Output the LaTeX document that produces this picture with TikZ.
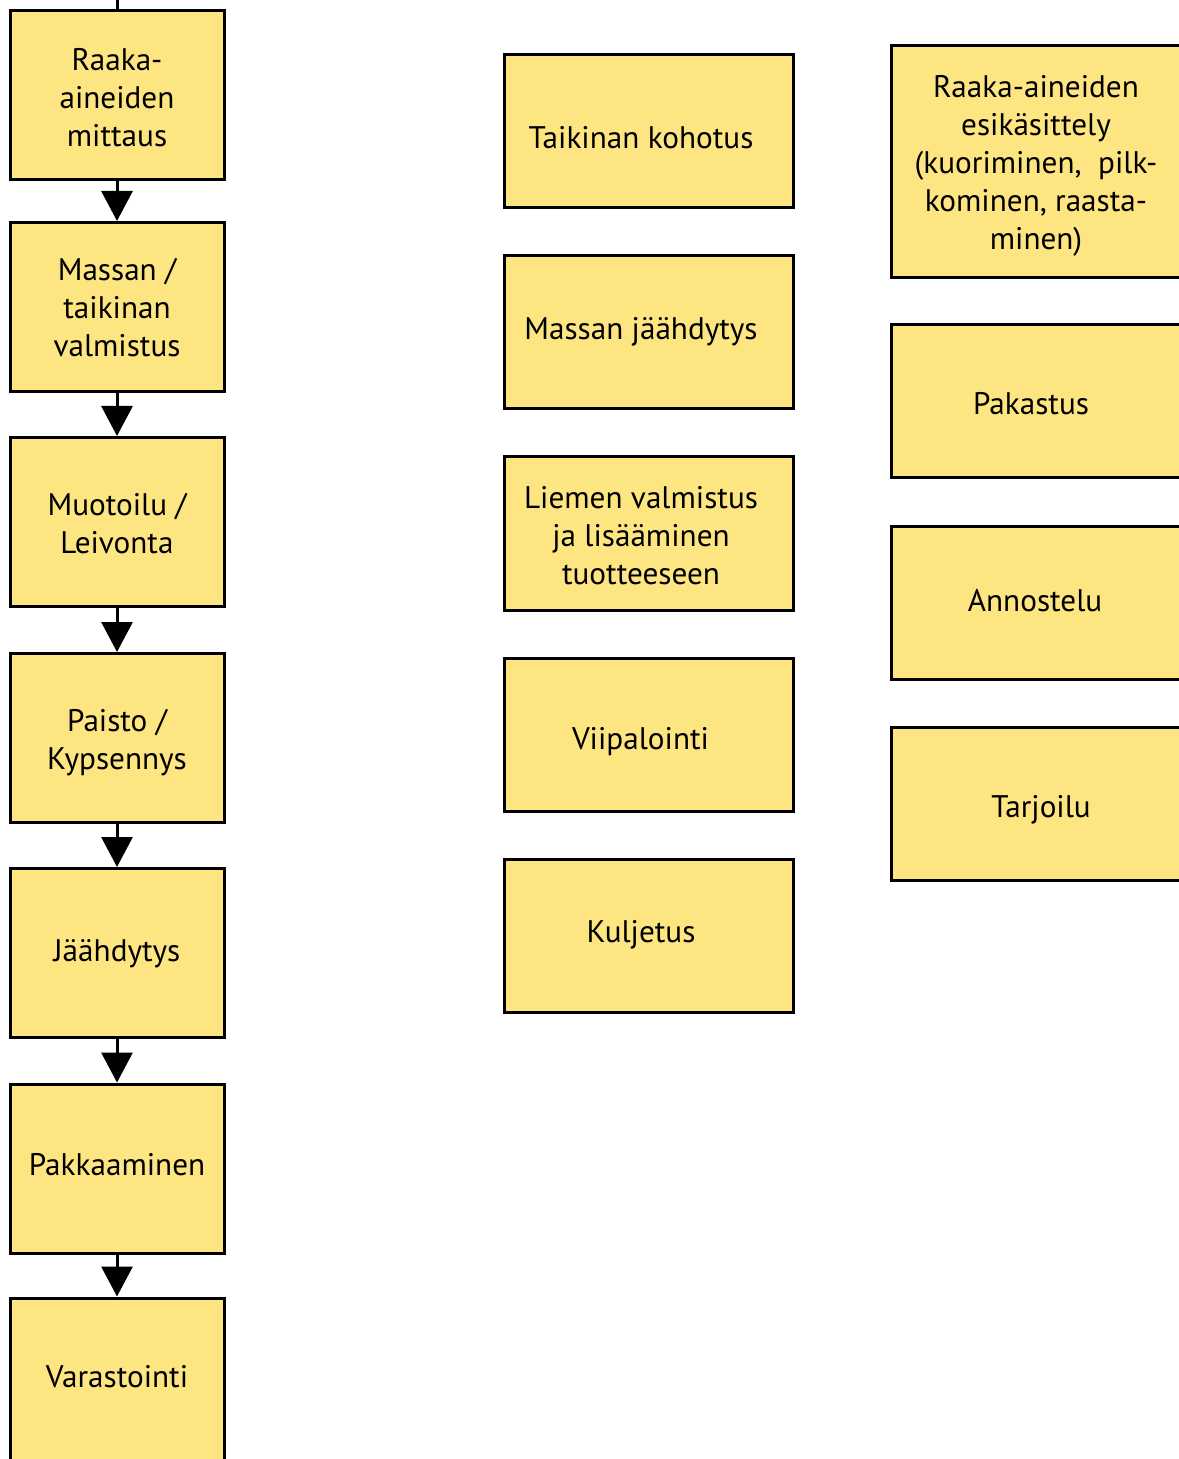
\documentclass[tikz,border=0pt]{standalone}
\usepackage{fontspec}
\setmainfont{PT Sans}
\usetikzlibrary{arrows.meta,calc}
\definecolor{boxfill}{RGB}{253,229,130}
\tikzset{
  box/.style={draw=black, line width=1.5pt, fill=boxfill, inner sep=0pt},
  leftbox/.style={box, minimum width=107pt, minimum height=84.5pt},
  midbox/.style={box, minimum width=144.5pt, minimum height=76.5pt},
  rightbox/.style={box, minimum width=145pt, minimum height=76.5pt},
  txt/.style={align=center, inner sep=0pt, font=\fontsize{15.6}{19}\selectfont},
  flow/.style={line width=1.5pt, -{Triangle[length=15pt, width=15.5pt]}},
}
\begin{document}
\begin{tikzpicture}[x=0.5pt, y=-0.5pt]
\useasboundingbox (0,0) rectangle (1178,1459);
% left column
\node[leftbox] (l1) at (117,95.5) {};
\node[leftbox] (l2) at (117,307) {};
\node[leftbox] (l3) at (117,522) {};
\node[leftbox] (l4) at (117,738) {};
\node[leftbox] (l5) at (117,953) {};
\node[leftbox] (l6) at (117,1168.5) {};
\node[leftbox] (l7) at (117,1382.5) {};
\node[txt] (tl1) at ($(l1)+(0,2)$) {Raaka-\\aineiden\\mittaus};
\node[txt] (tl2) at ($(l2)+(0,1)$) {Massan /\\taikinan\\valmistus};
\node[txt] (tl3) at ($(l3)+(0,2)$) {Muotoilu /\\Leivonta};
\node[txt] (tl4) at ($(l4)+(0,5)$) {Paisto /\\Kypsennys};
\node[txt] (tl5) at ($(l5)+(0,1)$) {Jäähdytys};
\node[txt] (tl6) at ($(l6)+(0,-4)$) {Pakkaaminen};
\node[txt] (tl7) at ($(l7)+(0,-6)$) {Varastointi};
\coordinate (top) at (117,0);
\draw[line width=1.5pt] (top) -- (l1.north);
\draw[flow] (l1) -- (l2);
\draw[flow] (l2) -- (l3);
\draw[flow] (l3) -- (l4);
\draw[flow] (l4) -- (l5);
\draw[flow] (l5) -- (l6);
\draw[flow] (l6) -- (l7);
% middle column
\node[midbox] (m1) at (648.5,131.5) {};
\node[midbox] (m2) at (648.5,332.5) {};
\node[midbox] (m3) at (648.5,533.5) {};
\node[midbox] (m4) at (648.5,734.5) {};
\node[midbox] (m5) at (648.5,935.5) {};
\node[txt] (tm1) at ($(m1)+(-7.5,6)$) {Taikinan kohotus};
\node[txt] (tm2) at ($(m2)+(-7.5,-1)$) {Massan jäähdytys};
\node[txt] (tm3) at ($(m3)+(-7.5,2)$) {Liemen valmistus\\ja lisääminen\\tuotteeseen};
\node[txt] (tm4) at ($(m4)+(-8,7)$) {Viipalointi};
\node[txt] (tm5) at ($(m5)+(-7.5,-1)$) {Kuljetus};
% right column
\node[rightbox, minimum height=116pt] (r1) at (1036,162) {};
\node[rightbox] (r2) at (1036,401.5) {};
\node[rightbox] (r3) at (1036,602.5) {};
\node[rightbox] (r4) at (1036,803.5) {};
\node[txt] (tr1) at ($(r1)+(0,4)$) {Raaka-aineiden\\esikäsittely\\(kuoriminen,~ pilk-\\kominen, raasta-\\minen)};
\node[txt] (tr2) at ($(r2)+(-5,2)$) {Pakastus};
\node[txt] (tr3) at ($(r3)+(-1,-2)$) {Annostelu};
\node[txt] (tr4) at ($(r4)+(5,6)$) {Tarjoilu};
\end{tikzpicture}
\end{document}
